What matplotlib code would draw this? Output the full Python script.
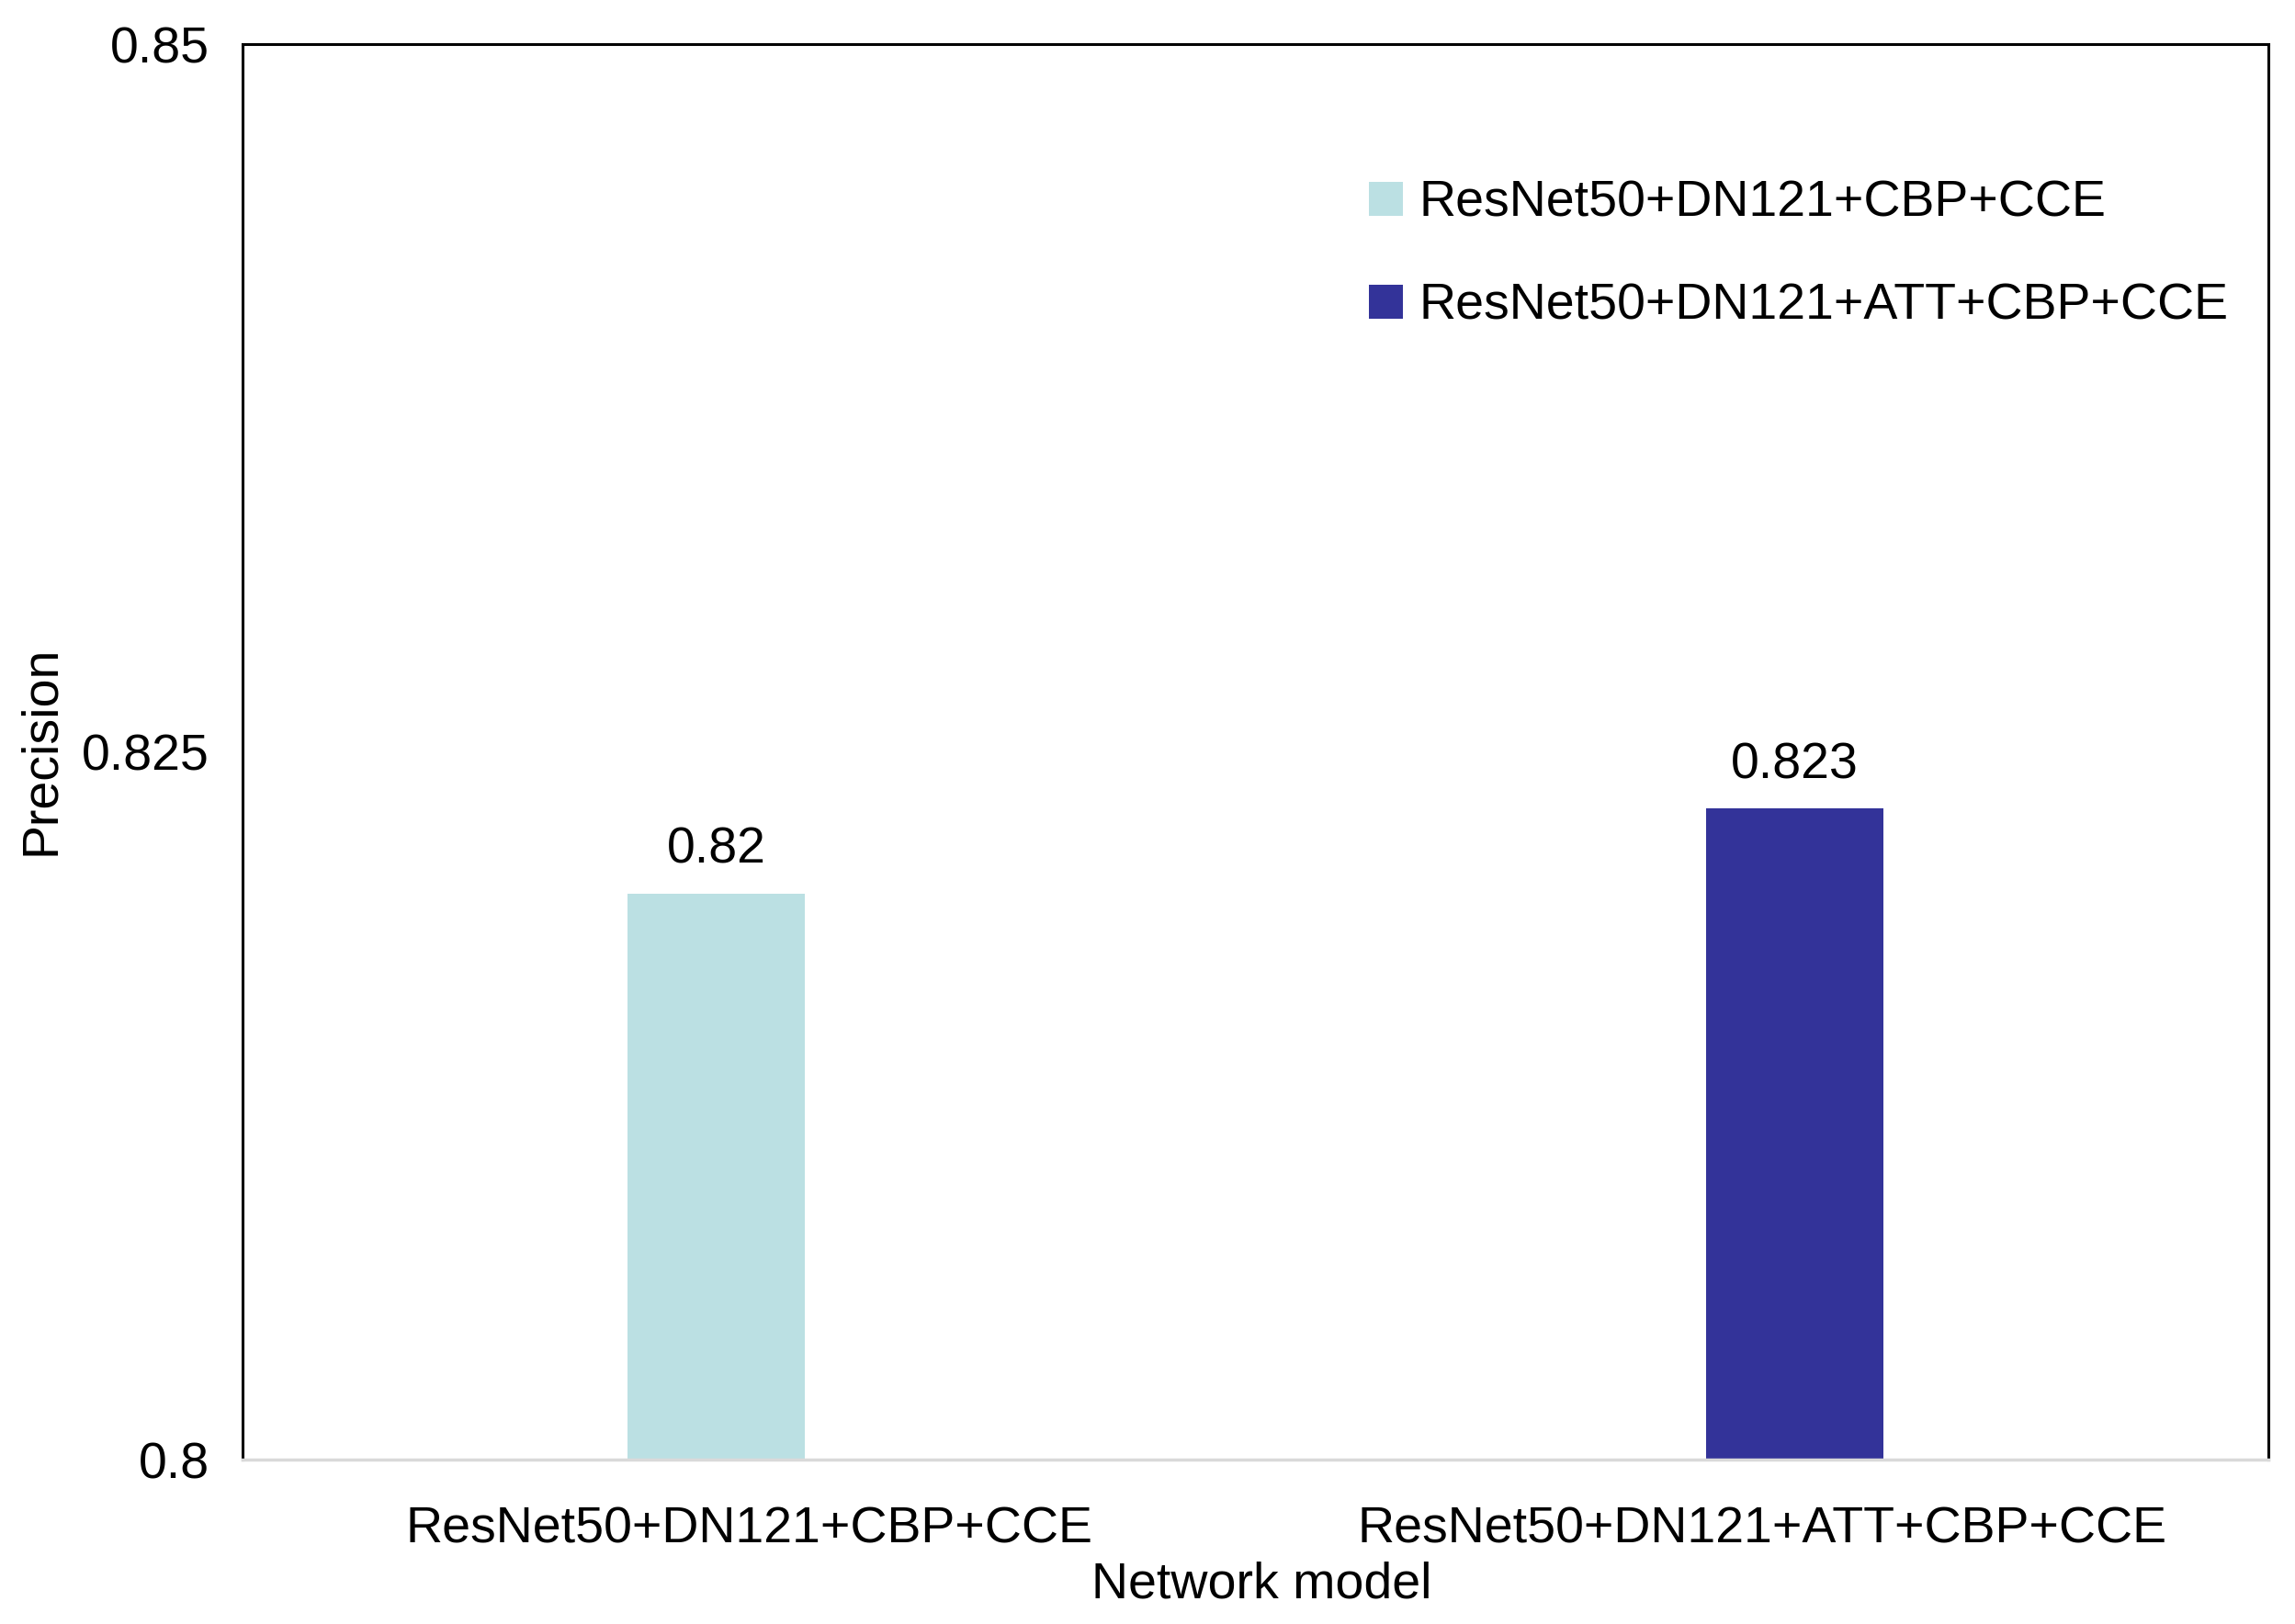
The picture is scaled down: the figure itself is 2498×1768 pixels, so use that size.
import matplotlib
matplotlib.use("Agg")
import matplotlib.pyplot as plt
import numpy as np
from matplotlib.patches import Patch

plt.rcParams['font.family'] = ['Liberation Sans', 'DejaVu Sans']

categories = ["ResNet50+DN121+CBP+CCE", "ResNet50+DN121+ATT+CBP+CCE"]
series_names = ["ResNet50+DN121+CBP+CCE", "ResNet50+DN121+ATT+CBP+CCE"]
# each series has a value only in its own category
series_values = [[0.82, np.nan], [np.nan, 0.823]]
value_labels = [["0.82", ""], ["", "0.823"]]
colors = ["#BBE0E3", "#333399"]
yticks = [0.8, 0.825, 0.85]
ytick_labels = ["0.8", "0.825", "0.85"]

FS = 40
W, H = 2498, 1768
fig = plt.figure(figsize=(W / 100, H / 100), dpi=100)
ax = fig.add_axes([264 / W, 1 - 1589 / H, (2469 - 264) / W, (1589 - 48) / H])

x = np.arange(len(categories))
offsets = [-0.0325, 0.0325]
bw = 0.175
for vals, labs, c, off in zip(series_values, value_labels, colors, offsets):
    for xi, v, lab in zip(x, vals, labs):
        if np.isnan(v):
            continue
        ax.bar(xi + off, v - 0.8, bottom=0.8, width=bw, color=c)
        ax.annotate(lab, (xi + off, v), xytext=(0, 15), textcoords='offset points',
                    ha='center', va='bottom', fontsize=FS)

ax.set_xlim(-0.5, 1.5)
ax.set_ylim(0.8, 0.85)
ax.set_xticks(x)
ax.set_xticklabels(categories, fontsize=FS)
ax.set_yticks(yticks)
ax.set_yticklabels(ytick_labels, fontsize=FS)
ax.tick_params(axis='x', length=0, pad=36)
ax.tick_params(axis='y', length=0, pad=26)

for s in ['left', 'top', 'right']:
    ax.spines[s].set_linewidth(2.2)
    ax.spines[s].set_color('black')
ax.spines['bottom'].set_linewidth(2.5)
ax.spines['bottom'].set_color('#D9D9D9')

handles = [Patch(facecolor=c, edgecolor='none') for c in colors]
ax.legend(handles, series_names, loc='upper left', bbox_to_anchor=(0.556, 0.904),
          frameon=False, fontsize=FS, handlelength=0.66, handleheight=0.66,
          handletextpad=0.33, labelspacing=1.08, borderpad=0, borderaxespad=0)

fig.text(45 / W, 1 - 817 / H, "Precision", rotation=90, ha='center', va='center', fontsize=FS)
fig.text(1373 / W, 1 - 1726 / H, "Network model", ha='center', va='center', fontsize=FS)

fig.savefig("out.png", dpi=100)
